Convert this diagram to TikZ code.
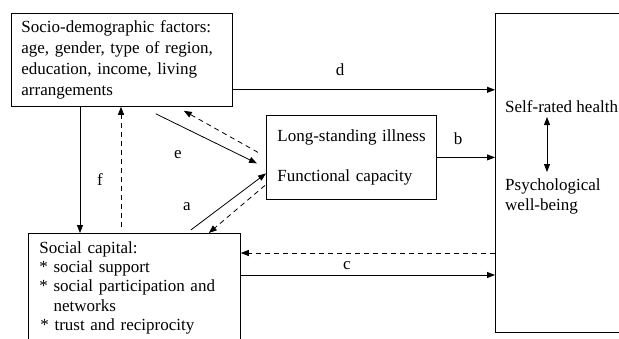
\documentclass[tikz,border=0pt]{standalone}
\usepackage{fontspec}
\setmainfont{Liberation Serif}
\usetikzlibrary{arrows.meta}

\tikzset{
  box/.style={draw, line width=0.8pt, rectangle, align=left},
  arr/.style={line width=0.8pt, -{Triangle[length=8pt,width=6pt]}},
  back/.style={arr, dash pattern=on 5pt off 4pt},
  dbl/.style={line width=0.8pt, {Triangle[length=8pt,width=6pt]}-{Triangle[length=8pt,width=6pt]}},
  lbl/.style={inner sep=0pt}
}

\begin{document}
\begin{tikzpicture}[x=1pt, y=-1pt, font=\fontsize{17}{21}\selectfont]
\useasboundingbox (0,0) rectangle (619,338);
\clip (0,0) rectangle (619,338);

% boxes
\node[box, anchor=north west, minimum width=221, minimum height=93, text width=201, inner xsep=10] (socio) at (11,13)
  {Socio-demographic factors:\\ age, gender, type of region,\\ education, income, living\\ arrangements};
\node[box, anchor=north west, minimum width=170, minimum height=84, text width=156, inner xsep=7] (illness) at (266,115)
  {\hspace*{4pt}Long-standing illness\\[19pt] \hspace*{4pt}Functional capacity\\[-12pt]};
\node[box, anchor=north west, text width=198, inner xsep=7, inner ysep=8, font=\fontsize{17}{19.3}\selectfont] (capital) at (28,233)
  {\hspace*{4pt}Social capital:\\ \hspace*{4pt}{*} social support\\ \hspace*{4pt}{*} social participation and\\ \hspace*{4pt}\phantom{* }networks\\ \hspace*{5pt}{*} trust and reciprocity};
\node[box, anchor=north west, minimum width=150, minimum height=319] (outcome) at (495,13) {};
\node[lbl, anchor=west] (srh) at (505,107) {Self-rated health};
\node[lbl, anchor=north west, align=left, font=\fontsize{17}{20}\selectfont] (pwb) at (505,178) {Psychological\\ well-being};
\draw[dbl] ([shift={(42,10)}]srh.west) -- ([shift={(42,-6)}]pwb.north west);

% d
\coordinate (dstart) at ([yshift=17]socio.south east);
\draw[arr] (dstart) -- (dstart -| outcome.west);
\node[lbl] (lbld) at (340,70) {d};

% b
\draw[arr] (illness.east) -- (illness.east -| outcome.west);
\node[lbl] (lblb) at (458,139) {b};

% c
\coordinate (cstart) at ([yshift=-42]capital.north east);
\coordinate (cback) at ([yshift=-20]capital.north east);
\draw[arr] (cstart) -- (cstart -| outcome.west);
\draw[back] (cback -| outcome.west) -- (cback);
\node[lbl] (lblc) at (347,266) {c};

% e
\draw[arr] ([shift={(-77,7)}]socio.south east) -- ([shift={(-9,6)}]illness.west);
\draw[back] ([shift={(-8,-5)}]illness.west) -- ([shift={(-49,4)}]socio.south east);
\node[lbl] (lble) at (178,155) {e};

% a
\draw[arr] ([shift={(-50,-3)}]capital.north east) -- ([shift={(0,16)}]illness.west);
\draw[back] ([shift={(-1,28)}]illness.west) -- ([shift={(-32,0)}]capital.north east);
\node[lbl] (lbla) at (187,207) {a};

% f
\coordinate (fdown) at ([xshift=69]socio.south west);
\coordinate (fup) at ([xshift=110]socio.south west);
\coordinate (fup2) at (fup |- capital.north);
\draw[arr] (fdown) -- (fdown |- capital.north);
\draw[back] ([yshift=6]fup2) -- (fup);
\node[lbl] (lblf) at (100,180) {f};
\end{tikzpicture}
\end{document}
